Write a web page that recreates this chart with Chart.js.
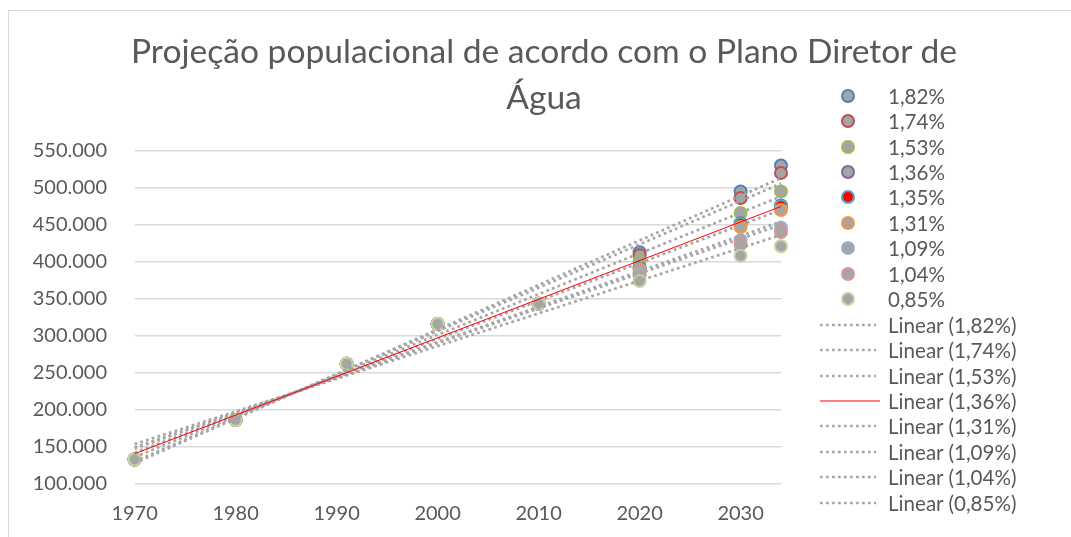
<!DOCTYPE html>
<html>
<head>
<meta charset="utf-8">
<script src="https://cdn.jsdelivr.net/npm/chart.js@4.4.1/dist/chart.umd.min.js"></script>
<style>
html,body{margin:0;padding:0;background:#fff;}
body{width:1071px;height:537px;position:relative;overflow:hidden;font-family:Lato,"Open Sans",sans-serif;color:#595959;}
#frame{position:absolute;left:8px;top:10px;width:1200px;height:700px;border:1.5px solid #D9D9D9;box-sizing:border-box;}
#c{position:absolute;left:0;top:0;}
#title{position:absolute;left:60px;width:968px;top:27px;text-align:center;font-size:33.6px;line-height:46px;white-space:nowrap;}
.lg{position:absolute;height:26px;line-height:26px;white-space:nowrap;font-size:20.6px;}
.lgtext{position:absolute;left:888px;}
.mk{position:absolute;left:841px;width:10px;height:10px;border-radius:50%;border:2px solid #000;}
.ln{position:absolute;left:820px;}
</style>
</head>
<body>
<div id="frame"></div>
<canvas id="c" width="1071" height="537"></canvas>
<div id="title">Projeção populacional de acordo com o Plano Diretor de<br>Água</div>
<div id="legend"></div>
<script>
// ---- data ----
const years = [1970, 1980, 1991, 2000, 2010, 2020, 2030, 2034];
const rateLabels = ['1,82%', '1,74%', '1,53%', '1,36%', '1,35%', '1,31%', '1,09%', '1,04%', '0,85%'];
const pop182 = [133000, 186500, 262200, 316000, 343500, 413000, 495000, 530000];
const pop174 = [133000, 186500, 262200, 316000, 343500, 409000, 486000, 520000];
const pop153 = [133000, 186500, 262200, 316000, 343500, 401000, 466000, 495000];
const pop136 = [133000, 186500, 262200, 316000, 343500, 392000, 452000, 476000];
const pop135 = [133000, 186500, 262200, 316000, 343500, 391000, 451000, 475000];
const pop131 = [133000, 186500, 262200, 316000, 343500, 389000, 447000, 470000];
const pop109 = [133000, 186500, 262200, 316000, 343500, 383000, 429000, 446000];
const pop104 = [133000, 186500, 262200, 316000, 343500, 381000, 424000, 440000];
const pop085 = [133000, 186500, 262200, 316000, 343500, 374000, 408000, 421000];
const yTicks = [100000, 150000, 200000, 250000, 300000, 350000, 400000, 450000, 500000, 550000];
const xTicks = [1970, 1980, 1990, 2000, 2010, 2020, 2030];
// series with a linear trendline (all except 1,35%)
const trendSeries = ['1,82%', '1,74%', '1,53%', '1,36%', '1,31%', '1,09%', '1,04%', '0,85%'];

// ---- styles ----
const seriesValues = [pop182, pop174, pop153, pop136, pop135, pop131, pop109, pop104, pop085];
const borderColors = ['#4F81BD', '#C0504D', '#9BBB59', '#8064A2', '#4BACC6', '#F79646', '#95B3D7', '#D99694', '#C3D69B'];
const fillColors = ['#A5A5A5', '#A5A5A5', '#A5A5A5', '#A5A5A5', '#FF0000', '#A5A5A5', '#A5A5A5', '#A5A5A5', '#A5A5A5'];

function linReg(xs, ys) {
  const n = xs.length;
  const mx = xs.reduce((a, b) => a + b, 0) / n;
  const my = ys.reduce((a, b) => a + b, 0) / n;
  let sxy = 0, sxx = 0;
  for (let i = 0; i < n; i++) { sxy += (xs[i] - mx) * (ys[i] - my); sxx += (xs[i] - mx) ** 2; }
  const b = sxy / sxx;
  return { a: my - b * mx, b };
}

const datasets = [];
rateLabels.forEach((lab, i) => {
  datasets.push({
    label: lab,
    data: years.map((x, j) => ({ x, y: seriesValues[i][j] })),
    backgroundColor: fillColors[i],
    borderColor: borderColors[i],
    pointRadius: 6,
    pointHoverRadius: 6,
    pointBorderWidth: 2,
    showLine: false,
    clip: false,
    order: 40 - i
  });
});
trendSeries.forEach((lab, k) => {
  const i = rateLabels.indexOf(lab);
  const r = linReg(years, seriesValues[i]);
  const x0 = years[0], x1 = years[years.length - 1];
  const isRed = lab === '1,36%';
  datasets.push({
    label: 'Linear (' + lab + ')',
    data: [{ x: x0, y: r.a + r.b * x0 }, { x: x1, y: r.a + r.b * x1 }],
    showLine: true,
    pointRadius: 0,
    borderColor: isRed ? '#FF0000' : '#A5A5A5',
    borderWidth: isRed ? 1 : 2.7,
    borderDash: isRed ? [] : [2.7, 3.3],
    fill: false,
    clip: false,
    order: isRed ? 0 : 10 - k
  });
});

Chart.defaults.font.family = 'Lato, "Open Sans", sans-serif';
Chart.defaults.color = '#595959';

const fmt = v => String(v).replace(/\B(?=(\d{3})+(?!\d))/g, '.');

new Chart(document.getElementById('c'), {
  type: 'scatter',
  data: { datasets },
  options: {
    responsive: false,
    animation: false,
    devicePixelRatio: 1,
    layout: { padding: { left: 0, right: 290, top: 150.7, bottom: 0 } },
    plugins: { legend: { display: false }, tooltip: { enabled: false }, title: { display: false } },
    scales: {
      x: {
        type: 'linear',
        min: xTicks[0],
        max: years[years.length - 1],
        afterBuildTicks: s => { s.ticks = xTicks.map(v => ({ value: v })); },
        afterFit: s => { s.height = 53; },
        ticks: { font: { size: 20 }, color: '#595959', padding: 10, callback: v => String(v), maxRotation: 0, autoSkip: false },
        grid: { display: false },
        border: { display: false }
      },
      y: {
        min: yTicks[0],
        max: yTicks[yTicks.length - 1],
        afterBuildTicks: s => { s.ticks = yTicks.map(v => ({ value: v })); },
        afterFit: s => { s.width = 134.6; },
        ticks: { font: { size: 20 }, color: '#595959', padding: 27.6, callback: v => fmt(v) },
        grid: { color: '#D9D9D9', lineWidth: 1.5, drawTicks: false },
        border: { display: false }
      }
    }
  }
});

// ---- legend (HTML) ----
const legend = document.getElementById('legend');
const itemTop = 95.7, itemStep = 25.44;
let idx = 0;
rateLabels.forEach((lab, i) => {
  const yc = itemTop + idx * itemStep;
  const mk = document.createElement('div');
  mk.className = 'mk';
  mk.style.top = (yc - 7) + 'px';
  mk.style.borderColor = borderColors[i];
  mk.style.background = fillColors[i];
  legend.appendChild(mk);
  const t = document.createElement('div');
  t.className = 'lg lgtext';
  t.style.top = (yc - 13) + 'px';
  t.textContent = lab;
  legend.appendChild(t);
  idx++;
});
trendSeries.forEach(lab => {
  const yc = itemTop + idx * itemStep;
  const isRed = lab === '1,36%';
  const svgNS = 'http://www.w3.org/2000/svg';
  const svg = document.createElementNS(svgNS, 'svg');
  svg.setAttribute('width', '62'); svg.setAttribute('height', '6');
  svg.setAttribute('class', 'ln');
  svg.style.top = (yc - 3) + 'px';
  const l = document.createElementNS(svgNS, 'line');
  l.setAttribute('x1', '0'); l.setAttribute('y1', '3');
  l.setAttribute('x2', isRed ? '60' : '56'); l.setAttribute('y2', '3');
  l.setAttribute('stroke', isRed ? '#FF0000' : '#A5A5A5');
  l.setAttribute('stroke-width', isRed ? '1' : '2.7');
  if (!isRed) l.setAttribute('stroke-dasharray', '2.7 3.3');
  svg.appendChild(l);
  legend.appendChild(svg);
  const t = document.createElement('div');
  t.className = 'lg lgtext';
  t.style.top = (yc - 13) + 'px';
  t.textContent = 'Linear (' + lab + ')';
  legend.appendChild(t);
  idx++;
});
</script>
</body>
</html>
